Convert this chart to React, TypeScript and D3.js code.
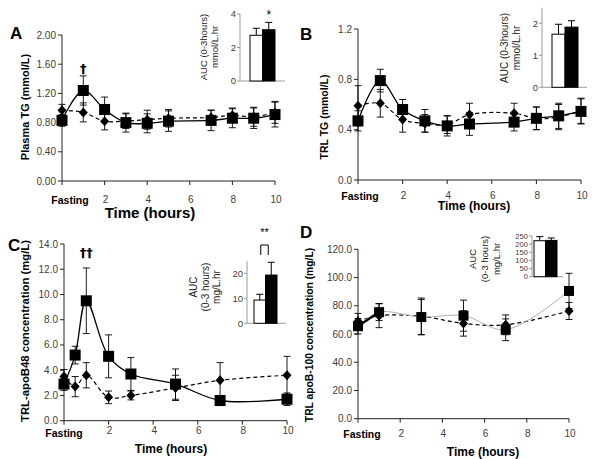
import React from "react";
import * as d3 from "d3";

// ---------- DATA ----------
const aucGroups = ["Diamond", "Square"];

// Panel A – Plasma TG
const timesA = [0, 1, 2, 3, 4, 5, 7, 8, 9, 10];
const squaresA = [0.83, 1.24, 0.98, 0.8, 0.79, 0.82, 0.83, 0.86, 0.86, 0.91];
const squaresSdA = [0.08, 0.2, 0.17, 0.13, 0.13, 0.14, 0.14, 0.13, 0.14, 0.17];
const diamondsA = [0.97, 0.94, 0.82, 0.82, 0.84, 0.86, 0.87, 0.9, 0.88, 0.94];
const diamondsSdA = [0.08, 0.13, 0.12, 0.1, 0.13, 0.12, 0.1, 0.1, 0.13, 0.15];
const yTicksA = [0, 0.4, 0.8, 1.2, 1.6, 2.0];
const aucA = [2.73, 3.06];
const aucSdA = [0.42, 0.44];
const aucTicksA = [0, 2, 4];

// Panel B – TRL TG
const timesB = [0, 1, 2, 3, 4, 5, 7, 8, 9, 10];
const squaresB = [0.47, 0.79, 0.56, 0.47, 0.43, 0.445, 0.46, 0.49, 0.51, 0.545];
const squaresSdB = [0.08, 0.09, 0.08, 0.09, 0.08, 0.09, 0.07, 0.09, 0.1, 0.1];
const diamondsB = [0.59, 0.61, 0.48, 0.45, 0.44, 0.52, 0.53, 0.49, 0.5, 0.55];
const diamondsSdB = [0.16, 0.11, 0.1, 0.07, 0.07, 0.09, 0.08, 0.09, 0.1, 0.1];
const yTicksB = [0, 0.4, 0.8, 1.2];
const aucB = [1.66, 1.88];
const aucSdB = [0.31, 0.2];
const aucTicksB = [0, 1, 2];

// Panel C – TRL apoB48
const timesC = [0, 0.5, 1, 2, 3, 5, 7, 10];
const squaresC = [2.9, 5.2, 9.5, 5.1, 3.7, 2.9, 1.6, 1.7];
const squaresSdC = [0.5, 0.7, 2.6, 1.7, 1.3, 1.2, 0.4, 0.5];
const diamondsC = [3.5, 2.7, 3.6, 1.85, 2.0, 2.6, 3.2, 3.6];
const diamondsSdC = [0.55, 0.8, 1.0, 0.5, 0.35, 1.0, 1.4, 1.5];
const yTicksC = [0, 2, 4, 6, 8, 10, 12, 14];
const aucC = [9.3, 19.3];
const aucSdC = [2.3, 5.1];
const aucTicksC = [0, 10, 20];

// Panel D – TRL apoB-100
const timesD = [0, 1, 3, 5, 7, 10];
const squaresD = [65.5, 75.5, 72, 73, 63, 90.5];
const squaresSdD = [5.5, 6, 12.5, 11, 7.7, 12.5];
const diamondsD = [69, 73, 72.5, 67.5, 66.5, 76.3];
const diamondsSdD = [5.6, 8.5, 13, 9, 7, 6];
const yTicksD = [0, 20, 40, 60, 80, 100, 120];
const aucD = [221, 223];
const aucSdD = [25, 15];
const aucTicksD = [0, 50, 100, 150, 200, 250];

const xTicks = [0, 2, 4, 6, 8, 10];
const xTickLabels = ["", "2", "4", "6", "8", "10"];

// ---------- LAYOUT ----------
const FONT = "'Liberation Sans', Arial, sans-serif";
const TICKCOL = "#404040";

type Pt = { t: number; v: number; sd: number };

interface InsetCfg {
  values: number[];
  sds: number[];
  ticks: number[];
  max: number;
  axisTopVal: number;
  axisX: number;
  baseY: number;
  topY: number;
  right: number;
  barL: number;
  barR: number;
  labels: string[];
  labelXs: number[];
  labelY: number;
  labelSize: number;
  tickSize: number;
  star?: string;
  starY?: number;
  bracket?: { top: number; bottom: number; textY: number };
}

interface PanelCfg {
  letter: string;
  letterX: number;
  letterY: number;
  x0: number;
  x1: number;
  yBottom: number;
  yTop: number;
  yMax: number;
  yTicks: number[];
  yFmt: string;
  yLabel: string;
  yLabelX: number;
  yLabelY: number;
  yLabelSize: number;
  tickLabelY: number;
  fastingX: number;
  fastingY: number;
  titleX: number;
  titleY: number;
  titleSize: number;
  times: number[];
  sq: number[];
  sqSd: number[];
  di: number[];
  diSd: number[];
  sqSize: number;
  grayLine?: boolean;
  dagger?: { text: string; t: number; y: number };
  inset: InsetCfg;
}

const panels: PanelCfg[] = [
  {
    letter: "A", letterX: 10, letterY: 39,
    x0: 62, x1: 275, yBottom: 181, yTop: 35, yMax: 2.0, yTicks: yTicksA, yFmt: ".2f",
    yLabel: "Plasma TG (mmol/L)", yLabelX: 25, yLabelY: 107, yLabelSize: 11,
    tickLabelY: 199, fastingX: 70, fastingY: 200, titleX: 150, titleY: 218, titleSize: 15,
    times: timesA, sq: squaresA, sqSd: squaresSdA, di: diamondsA, diSd: diamondsSdA, sqSize: 11,
    dagger: { text: "†", t: 1, y: 68 },
    inset: {
      values: aucA, sds: aucSdA, ticks: aucTicksA, max: 4, axisTopVal: 4,
      axisX: 240, baseY: 81, topY: 14, right: 285, barL: 250, barR: 275,
      labels: ["AUC (0-3hours)", "mmol/L.hr"], labelXs: [204, 215], labelY: 47,
      labelSize: 9.5, tickSize: 9.5, star: "*", starY: 19,
    },
  },
  {
    letter: "B", letterX: 300, letterY: 40,
    x0: 358, x1: 581, yBottom: 180, yTop: 29, yMax: 1.2, yTicks: yTicksB, yFmt: ".1f",
    yLabel: "TRL TG (mmol/L)", yLabelX: 324, yLabelY: 117, yLabelSize: 10.5,
    tickLabelY: 195, fastingX: 360, fastingY: 196, titleX: 474, titleY: 210, titleSize: 12,
    times: timesB, sq: squaresB, sqSd: squaresSdB, di: diamondsB, diSd: diamondsSdB, sqSize: 11,
    inset: {
      values: aucB, sds: aucSdB, ticks: aucTicksB, max: 2, axisTopVal: 2.48,
      axisX: 542, baseY: 87.3, topY: 23.3, right: 587, barL: 552, barR: 578,
      labels: ["AUC (0-3hours)", "mmol/L.hr"], labelXs: [504, 516], labelY: 48,
      labelSize: 10, tickSize: 9.5,
    },
  },
  {
    letter: "C", letterX: 8, letterY: 251,
    x0: 64, x1: 287, yBottom: 420.7, yTop: 244, yMax: 14, yTicks: yTicksC, yFmt: ".1f",
    yLabel: "TRL-apoB48 concentration (mg/L)", yLabelX: 25, yLabelY: 331, yLabelSize: 11.3,
    tickLabelY: 430, fastingX: 64, fastingY: 433, titleX: 171, titleY: 453, titleSize: 12,
    times: timesC, sq: squaresC, sqSd: squaresSdC, di: diamondsC, diSd: diamondsSdC, sqSize: 11,
    dagger: { text: "††", t: 1, y: 252 },
    inset: {
      values: aucC, sds: aucSdC, ticks: aucTicksC, max: 20, axisTopVal: 25,
      axisX: 247, baseY: 323.3, topY: 273.3, right: 286, barL: 254, barR: 277,
      labels: ["AUC", "(0-3 hours)", "mg/L.hr"], labelXs: [193, 205, 216], labelY: 287,
      labelSize: 10, tickSize: 9.5,
      bracket: { top: 245, bottom: 255, textY: 236 },
    },
  },
  {
    letter: "D", letterX: 300, letterY: 238,
    x0: 358, x1: 569, yBottom: 418.7, yTop: 249.3, yMax: 120, yTicks: yTicksD, yFmt: ".1f",
    yLabel: "TRL apoB-100 concentration (mg/L)", yLabelX: 309, yLabelY: 335, yLabelSize: 10.3,
    tickLabelY: 433, fastingX: 362, fastingY: 434, titleX: 483, titleY: 456, titleSize: 12,
    times: timesD, sq: squaresD, sqSd: squaresSdD, di: diamondsD, diSd: diamondsSdD, sqSize: 10,
    grayLine: true,
    inset: {
      values: aucD, sds: aucSdD, ticks: aucTicksD, max: 250, axisTopVal: 250,
      axisX: 532, baseY: 276.7, topY: 236, right: 563, barL: 534, barR: 557,
      labels: ["AUC", "(0-3 hours)", "mg/L.hr"], labelXs: [473, 485, 497], labelY: 259,
      labelSize: 9.5, tickSize: 7.6,
    },
  },
];

// ---------- COMPONENTS ----------
function Inset({ c }: { c: InsetCfg }) {
  const y = d3.scaleLinear().domain([0, c.max]).range([c.baseY, c.topY]);
  const xb = d3.scaleBand<string>().domain(aucGroups).range([c.barL, c.barR]).padding(0);
  const bw = xb.bandwidth();
  const axisCol = "#9a9a9a";
  return (
    <g>
      <line x1={c.axisX} x2={c.axisX} y1={c.baseY} y2={y(c.axisTopVal)} stroke={axisCol} strokeWidth={1} />
      <line x1={c.axisX} x2={c.right} y1={c.baseY} y2={c.baseY} stroke={axisCol} strokeWidth={1} />
      {c.ticks.map((t) => (
        <g key={t}>
          <line x1={c.axisX - 3} x2={c.axisX} y1={y(t)} y2={y(t)} stroke={axisCol} />
          <text x={c.axisX - 4} y={y(t)} dy="0.35em" textAnchor="end" fontSize={c.tickSize} fill={TICKCOL} fontFamily={FONT}>
            {t}
          </text>
        </g>
      ))}
      {aucGroups.map((g, i) => {
        const bx = xb(g)!;
        const top = y(c.values[i]);
        const et = y(c.values[i] + c.sds[i]);
        const cx = bx + bw / 2;
        return (
          <g key={g}>
            <line x1={cx} x2={cx} y1={top} y2={et} stroke="#000" strokeWidth={1} />
            <line x1={cx - 3.5} x2={cx + 3.5} y1={et} y2={et} stroke="#000" strokeWidth={1} />
            <rect x={bx} y={top} width={bw} height={c.baseY - top} fill={i === 0 ? "#fff" : "#000"} stroke="#000" strokeWidth={1} />
          </g>
        );
      })}
      {c.star && (
        <text x={xb(aucGroups[1])! + bw / 2} y={c.starY} textAnchor="middle" fontSize={12} fontFamily={FONT} fill="#000">
          {c.star}
        </text>
      )}
      {c.bracket && (() => {
        const l = xb(aucGroups[0])! + bw / 2 + 1;
        const r = xb(aucGroups[1])! + bw / 2 - 3;
        return (
          <g>
            <path d={`M${l},${c.bracket.bottom}V${c.bracket.top}H${r}V${c.bracket.bottom}`} fill="none" stroke="#000" strokeWidth={1} />
            <text x={(l + r) / 2} y={c.bracket.textY} textAnchor="middle" fontSize={11} fontFamily={FONT} fill="#000">
              **
            </text>
          </g>
        );
      })()}
      {c.labels.map((s, i) => (
        <text
          key={s}
          transform={`translate(${c.labelXs[i]},${c.labelY}) rotate(-90)`}
          textAnchor="middle"
          dy="0.35em"
          fontSize={c.labelSize}
          fontFamily={FONT}
          fill="#222"
        >
          {s}
        </text>
      ))}
    </g>
  );
}

function Panel({ cfg }: { cfg: PanelCfg }) {
  const x = d3.scaleLinear().domain([0, 10]).range([cfg.x0, cfg.x1]);
  const y = d3.scaleLinear().domain([0, cfg.yMax]).range([cfg.yBottom, cfg.yTop]);
  const fmt = d3.format(cfg.yFmt);
  const sqPts: Pt[] = cfg.times.map((t, i) => ({ t, v: cfg.sq[i], sd: cfg.sqSd[i] }));
  const diPts: Pt[] = cfg.times.map((t, i) => ({ t, v: cfg.di[i], sd: cfg.diSd[i] }));
  const line = d3
    .line<Pt>()
    .x((d) => x(d.t))
    .y((d) => y(d.v))
    .curve(d3.curveCatmullRom.alpha(0.5));
  const straight = d3
    .line<Pt>()
    .x((d) => x(d.t))
    .y((d) => y(d.v));
  const half = cfg.sqSize / 2;
  const cap = 3.5;
  const errBars = (pts: Pt[], key: string) =>
    pts.map((p, i) => {
      const cx = x(p.t);
      const hi = y(p.v + p.sd);
      const lo = y(p.v - p.sd);
      return (
        <g key={key + i} stroke="#000" strokeWidth={0.9}>
          <line x1={cx} x2={cx} y1={hi} y2={lo} />
          <line x1={cx - cap} x2={cx + cap} y1={hi} y2={hi} />
          <line x1={cx - cap} x2={cx + cap} y1={lo} y2={lo} />
        </g>
      );
    });
  return (
    <g>
      <text x={cfg.letterX} y={cfg.letterY} fontSize={17} fontWeight="bold" fontFamily={FONT} fill="#000">
        {cfg.letter}
      </text>
      {/* y axis */}
      <line x1={cfg.x0} x2={cfg.x0} y1={cfg.yBottom} y2={cfg.yTop} stroke="#222" strokeWidth={1} />
      {cfg.yTicks.map((t) => (
        <g key={t}>
          <line x1={cfg.x0 - 4} x2={cfg.x0} y1={y(t)} y2={y(t)} stroke="#222" />
          <text x={cfg.x0 - 6} y={y(t)} dy="0.35em" textAnchor="end" fontSize={10} fill={TICKCOL} fontFamily={FONT}>
            {fmt(t)}
          </text>
        </g>
      ))}
      <text
        transform={`translate(${cfg.yLabelX},${cfg.yLabelY}) rotate(-90)`}
        textAnchor="middle"
        dy="0.35em"
        fontSize={cfg.yLabelSize}
        fontWeight="bold"
        fontFamily={FONT}
        fill="#000"
      >
        {cfg.yLabel}
      </text>
      {/* x axis */}
      <line x1={cfg.x0} x2={cfg.x1} y1={cfg.yBottom} y2={cfg.yBottom} stroke="#222" strokeWidth={1} />
      {xTicks.map((t, i) => (
        <g key={t}>
          <line x1={x(t)} x2={x(t)} y1={cfg.yBottom} y2={cfg.yBottom + 4} stroke="#222" />
          <text x={x(t) + 1} y={cfg.tickLabelY} dy="0.35em" textAnchor="middle" fontSize={10} fill={TICKCOL} fontFamily={FONT}>
            {xTickLabels[i]}
          </text>
        </g>
      ))}
      <text x={cfg.fastingX} y={cfg.fastingY} dy="0.35em" textAnchor="middle" fontSize={10.5} fontWeight="bold" fontFamily={FONT} fill="#000">
        Fasting
      </text>
      <text x={cfg.titleX} y={cfg.titleY} textAnchor="middle" fontSize={cfg.titleSize} fontWeight="bold" fontFamily={FONT} fill="#000">
        Time (hours)
      </text>
      {/* error bars */}
      {errBars(diPts, "d")}
      {errBars(sqPts, "s")}
      {/* lines */}
      <path d={line(diPts) || ""} fill="none" stroke="#000" strokeWidth={1.2} strokeDasharray="4,3" />
      {cfg.grayLine ? (
        <>
          <path d={line(sqPts) || ""} fill="none" stroke="#b0b0b0" strokeWidth={1} />
          <path d={straight(sqPts.slice(0, 2)) || ""} fill="none" stroke="#000" strokeWidth={2.2} />
        </>
      ) : (
        <path d={line(sqPts) || ""} fill="none" stroke="#000" strokeWidth={1.3} />
      )}
      {/* markers */}
      {diPts.map((p, i) => {
        const cx = x(p.t);
        const cy = y(p.v);
        return <path key={"dm" + i} d={`M${cx},${cy - 5}L${cx + 4.5},${cy}L${cx},${cy + 5}L${cx - 4.5},${cy}Z`} fill="#000" />;
      })}
      {sqPts.map((p, i) => (
        <rect key={"sm" + i} x={x(p.t) - half} y={y(p.v) - half} width={cfg.sqSize} height={cfg.sqSize} fill="#000" />
      ))}
      {cfg.dagger && (
        <text x={x(cfg.dagger.t)} y={cfg.dagger.y} dy="0.35em" textAnchor="middle" fontSize={13} fontWeight="bold" fontFamily="'DejaVu Sans', sans-serif" fill="#000">
          {cfg.dagger.text}
        </text>
      )}
      <Inset c={cfg.inset} />
    </g>
  );
}

export default function App() {
  return (
    <svg
      width={600}
      height={459}
      viewBox="0 0 600 459"
      style={{ position: "absolute", left: 0, top: 0, background: "#fff" }}
    >
      <rect width={600} height={459} fill="#fff" />
      {panels.map((p) => (
        <Panel key={p.letter} cfg={p} />
      ))}
    </svg>
  );
}
